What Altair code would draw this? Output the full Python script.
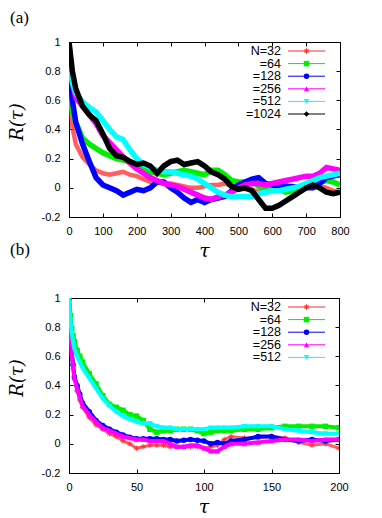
import altair as alt
import pandas as pd

# ---------------- data ----------------
LABELS = ["N=32", "=64", "=128", "=256", "=512", "=1024"]
COLORS = ["#ff2a2a", "#00ee00", "#0000ff", "#ff00ff", "#00ffff", "#000000"]
STAR = "M-1,0L1,0M0,-1L0,1M-0.7,-0.7L0.7,0.7M-0.7,0.7L0.7,-0.7"
SHAPES = [STAR, "square", "circle", "triangle-up", "triangle-down", "diamond"]
INK = "#000000"

Y_TICKS = [-0.2, 0, 0.2, 0.4, 0.6, 0.8, 1]

# panel (a)
TAU_A = [0, 5, 10, 20, 40, 60, 80, 100, 120, 140, 160, 180, 200, 220, 240, 260,
         280, 300, 320, 340, 360, 380, 400, 420, 440, 460, 480, 500, 520, 540,
         560, 580, 600, 620, 640, 660, 680, 700, 720, 740, 760, 780, 800]
X_TICKS_A = [0, 100, 200, 300, 400, 500, 600, 700, 800]

A_N32 = [1.0, 0.55, 0.42, 0.30, 0.21, 0.16, 0.12, 0.10, 0.09, 0.10, 0.11, 0.09, 0.08,
         0.06, 0.04, 0.04, 0.03, 0.03, 0.02, 0.01, 0.0, 0.0, 0.01, 0.02, 0.02, 0.03,
         0.01, 0.0, -0.01, -0.01, -0.03, 0.0, 0.02, 0.03, 0.02, 0.0, 0.0, 0.01, 0.0,
         0.01, 0.0, -0.02, -0.03]
A_N64 = [1.0, 0.62, 0.52, 0.45, 0.34, 0.30, 0.27, 0.24, 0.22, 0.20, 0.19, 0.18, 0.15,
         0.12, 0.11, 0.10, 0.09, 0.10, 0.11, 0.12, 0.11, 0.10, 0.09, 0.12, 0.12, 0.09,
         0.05, 0.04, 0.04, 0.05, 0.01, -0.01, 0.0, -0.01, -0.03, -0.02, -0.01, 0.0,
         0.02, 0.04, 0.05, 0.04, 0.02]
A_N128 = [1.0, 0.72, 0.60, 0.45, 0.30, 0.18, 0.07, 0.02, 0.0, -0.02, -0.05, -0.03,
          -0.01, -0.02, 0.0, 0.04, 0.04, 0.0, -0.03, -0.07, -0.10, -0.08, -0.10, -0.08,
          -0.07, -0.06, -0.02, 0.02, 0.04, 0.06, 0.07, 0.03, 0.02, 0.01, 0.01, 0.01,
          0.0, 0.0, 0.0, 0.03, 0.07, 0.08, 0.09]
A_N256 = [1.0, 0.80, 0.72, 0.62, 0.56, 0.50, 0.44, 0.36, 0.31, 0.26, 0.21, 0.17, 0.13,
          0.10, 0.07, 0.05, 0.03, 0.02, 0.01, -0.01, -0.03, -0.05, -0.07, -0.08, -0.06,
          -0.05, -0.03, 0.0, 0.02, 0.03, 0.03, 0.02, 0.03, 0.04, 0.05, 0.06, 0.07, 0.08,
          0.08, 0.10, 0.14, 0.13, 0.12]
A_N512 = [1.0, 0.80, 0.72, 0.65, 0.59, 0.55, 0.52, 0.46, 0.40, 0.35, 0.33, 0.26, 0.20,
          0.16, 0.14, 0.12, 0.11, 0.11, 0.10, 0.09, 0.08, 0.06, 0.03, 0.0, -0.03, -0.05,
          -0.06, -0.06, -0.06, -0.06, -0.04, -0.03, -0.02, -0.02, -0.01, 0.0, 0.01, 0.03,
          0.05, 0.07, 0.08, 0.09, 0.10]
A_N1024 = [1.0, 0.90, 0.80, 0.68, 0.56, 0.50, 0.46, 0.37, 0.27, 0.22, 0.21, 0.18, 0.16,
           0.17, 0.15, 0.10, 0.15, 0.18, 0.19, 0.16, 0.17, 0.18, 0.15, 0.11, 0.09, 0.06,
           0.01, -0.01, 0.0, -0.02, -0.08, -0.14, -0.14, -0.12, -0.09, -0.06, -0.03, 0.0,
           0.02, 0.0, -0.03, -0.04, -0.03]

# panel (b)
TAU_B = [0, 1, 2, 3, 4, 6, 8, 10, 15, 20, 25, 30, 35, 40, 45, 50, 55, 60, 65, 70, 75,
         80, 85, 90, 95, 100, 105, 110, 115, 120, 130, 140, 150, 160, 170, 180, 190, 200]
X_TICKS_B = [0, 50, 100, 150, 200]

B_N32 = [1.0, 0.82, 0.68, 0.55, 0.45, 0.36, 0.30, 0.25, 0.18, 0.13, 0.10, 0.07, 0.05,
         0.02, 0.0, -0.03, -0.02, -0.01, -0.01, -0.01, -0.02, -0.02, -0.02, -0.02, -0.02,
         -0.03, -0.02, -0.01, 0.03, 0.05, 0.04, 0.04, 0.05, 0.04, 0.01, -0.01, 0.0, -0.03]
B_N64 = [1.0, 0.88, 0.79, 0.74, 0.70, 0.64, 0.60, 0.56, 0.48, 0.41, 0.33, 0.27, 0.25,
         0.23, 0.20, 0.19, 0.16, 0.10, 0.08, 0.09, 0.09, 0.10, 0.10, 0.10, 0.09, 0.07,
         0.08, 0.09, 0.09, 0.09, 0.10, 0.10, 0.11, 0.12, 0.12, 0.12, 0.12, 0.11]
B_N128 = [1.0, 0.77, 0.63, 0.54, 0.46, 0.40, 0.34, 0.28, 0.22, 0.16, 0.125, 0.10, 0.08,
          0.06, 0.045, 0.035, 0.035, 0.035, 0.035, 0.03, 0.03, 0.02, 0.025, 0.03, 0.025,
          0.02, 0.0, 0.01, 0.0, 0.02, 0.03, 0.05, 0.05, 0.03, 0.02, 0.03, 0.02, 0.03]
B_N256 = [1.0, 0.77, 0.62, 0.53, 0.45, 0.38, 0.32, 0.26, 0.20, 0.15, 0.11, 0.09, 0.07,
          0.05, 0.04, 0.03, 0.03, 0.02, 0.02, 0.02, 0.0, -0.02, -0.02, -0.01, -0.01,
          -0.03, -0.05, -0.05, -0.02, 0.0, 0.0, 0.01, 0.02, 0.03, 0.03, 0.02, 0.03, 0.03]
B_N512 = [1.0, 0.85, 0.76, 0.70, 0.65, 0.60, 0.56, 0.52, 0.45, 0.38, 0.31, 0.26, 0.22,
          0.19, 0.17, 0.15, 0.14, 0.14, 0.12, 0.11, 0.11, 0.10, 0.10, 0.10, 0.10, 0.10,
          0.11, 0.11, 0.11, 0.11, 0.12, 0.12, 0.12, 0.10, 0.09, 0.08, 0.07, 0.07]

SERIES_A = [A_N32, A_N64, A_N128, A_N256, A_N512, A_N1024]
SERIES_B = [B_N32, B_N64, B_N128, B_N256, B_N512]

SANS = "Liberation Sans"
SERIF = "DejaVu Serif"


def one(**kw):
    return pd.DataFrame({k: [v] for k, v in kw.items()})


def panel(tau, series, xdom, xticks, W, H, show_points, lw):
    xs = alt.Scale(domain=xdom, nice=False, zero=False)
    ys = alt.Scale(domain=[-0.2, 1], nice=False, zero=False)
    common = dict(title=None, grid=False)
    # main axes: labels + frame edge
    x_main = alt.Axis(orient="bottom", values=xticks, ticks=False, tickSize=0,
                      domain=True, domainColor=INK, domainWidth=1, labelPadding=8,
                      labelFlush=False, labelFontSize=11, labelFont=SANS,
                      labelColor=INK, **common)
    y_main = alt.Axis(orient="left", values=Y_TICKS, ticks=False, tickSize=0,
                      domain=True, domainColor=INK, domainWidth=1, labelPadding=9,
                      labelFlush=False, labelFontSize=11, labelFont=SANS,
                      labelColor=INK, labelExpr="'' + datum.value", **common)
    # inward ticks (axis pushed 4px inside, ticks pointing back to the edge)
    x_tick_b = alt.Axis(orient="bottom", values=xticks, offset=-4, ticks=True,
                        tickSize=4, tickColor=INK, tickWidth=1, labels=False,
                        domain=False, **common)
    y_tick_l = alt.Axis(orient="left", values=Y_TICKS, offset=-4, ticks=True,
                        tickSize=4, tickColor=INK, tickWidth=1, labels=False,
                        domain=False, **common)
    # top/right frame edges
    x_top = alt.Axis(orient="top", values=xticks, ticks=False, labels=False,
                     domain=True, domainColor=INK, domainWidth=1, **common)
    y_right = alt.Axis(orient="right", values=Y_TICKS, ticks=False, labels=False,
                       domain=True, domainColor=INK, domainWidth=1, **common)
    x_tick_t = alt.Axis(orient="top", values=xticks, offset=-4, ticks=True,
                        tickSize=4, tickColor=INK, tickWidth=1, labels=False,
                        domain=False, **common)
    y_tick_r = alt.Axis(orient="right", values=Y_TICKS, offset=-4, ticks=True,
                        tickSize=4, tickColor=INK, tickWidth=1, labels=False,
                        domain=False, **common)
    axes = [(x_main, y_main), (x_tick_b, y_tick_l), (x_top, y_right),
            (x_tick_t, y_tick_r)]

    layers = []
    for i, vals in enumerate(series):
        df = pd.DataFrame({"tau": tau, "R": vals})
        if i < len(axes):
            xa, ya = axes[i]
        else:
            xa, ya = None, None
        xenc = alt.X("tau:Q", scale=xs, axis=xa, title=None)
        yenc = alt.Y("R:Q", scale=ys, axis=ya, title=None)
        if i == 0:
            line = alt.Chart(df).mark_line(color=COLORS[i], strokeWidth=lw - 1,
                                           opacity=0.75, clip=True)
        else:
            line = alt.Chart(df).mark_line(color=COLORS[i], strokeWidth=lw, clip=True)
        layers.append(line.encode(x=xenc, y=yenc))
        if show_points:
            if i == 0:
                pm = alt.Chart(df).mark_point(shape=SHAPES[i], filled=False, size=30,
                                              color=COLORS[i], strokeWidth=1, opacity=0.8,
                                              clip=True)
            else:
                pm = alt.Chart(df).mark_point(shape=SHAPES[i], filled=True, size=30,
                                              color=COLORS[i], opacity=1, clip=True)
            layers.append(pm.encode(x=alt.X("tau:Q", scale=xs, axis=None),
                                    y=alt.Y("R:Q", scale=ys, axis=None)))

    # key inside the plot, top right
    for i in range(len(series)):
        yy = 9 + 12.6 * i
        layers.append(alt.Chart(one(label=LABELS[i])).mark_text(
            align="right", baseline="middle", font=SANS, fontSize=12.5, color=INK
        ).encode(text="label:N", x=alt.value(212), y=alt.value(yy)))
        layers.append(alt.Chart(one(label=LABELS[i])).mark_rule(
            color=COLORS[i], strokeWidth=1).encode(
            x=alt.value(219), x2=alt.value(256), y=alt.value(yy)))
        if i == 0:
            mk = alt.Chart(one(label=LABELS[i])).mark_point(
                shape=SHAPES[i], filled=False, size=30, color=COLORS[i], strokeWidth=1,
                opacity=1)
        else:
            mk = alt.Chart(one(label=LABELS[i])).mark_point(
                shape=SHAPES[i], filled=True, size=30, color=COLORS[i], opacity=1)
        layers.append(mk.encode(x=alt.value(237.5), y=alt.value(yy)))

    # titles
    layers.append(alt.Chart(one(t="R(τ)")).mark_text(
        angle=270, align="center", baseline="middle", font=SERIF, fontStyle="italic",
        fontSize=18, color=INK).encode(text="t:N", x=alt.value(-51), y=alt.value(80)))
    layers.append(alt.Chart(one(t="τ")).mark_text(
        align="center", baseline="middle", font=SERIF, fontStyle="italic",
        fontSize=19, color=INK).encode(text="t:N", x=alt.value(W / 2),
                                       y=alt.value(H + 34)))
    return layers


W_A, H_A = 271, 175
W_B, H_B = 270, 175
layers_a = panel(TAU_A, SERIES_A, [0, 800], X_TICKS_A, W_A, H_A, False, 5.5)
layers_b = panel(TAU_B, SERIES_B, [0, 200], X_TICKS_B, W_B, H_B, True, 4)

layers_a.append(alt.Chart(one(t="(a)")).mark_text(
    align="left", baseline="top", font="Liberation Serif", fontSize=17, color=INK
).encode(text="t:N", x=alt.value(-59), y=alt.value(-32)))
layers_a.append(alt.Chart(one(t="(b)")).mark_text(
    align="left", baseline="top", font="Liberation Serif", fontSize=17, color=INK
).encode(text="t:N", x=alt.value(-59), y=alt.value(200)))

pa = alt.layer(*layers_a).properties(width=W_A, height=H_A).resolve_axis(
    x="independent", y="independent")
pb = alt.layer(*layers_b).properties(width=W_B, height=H_B).resolve_axis(
    x="independent", y="independent")

chart = alt.vconcat(pa, pb, spacing=81, bounds="flush").properties(
    padding=0
).configure_view(stroke="transparent")

chart.save("out.html", embed_options={"renderer": "svg", "actions": False})
